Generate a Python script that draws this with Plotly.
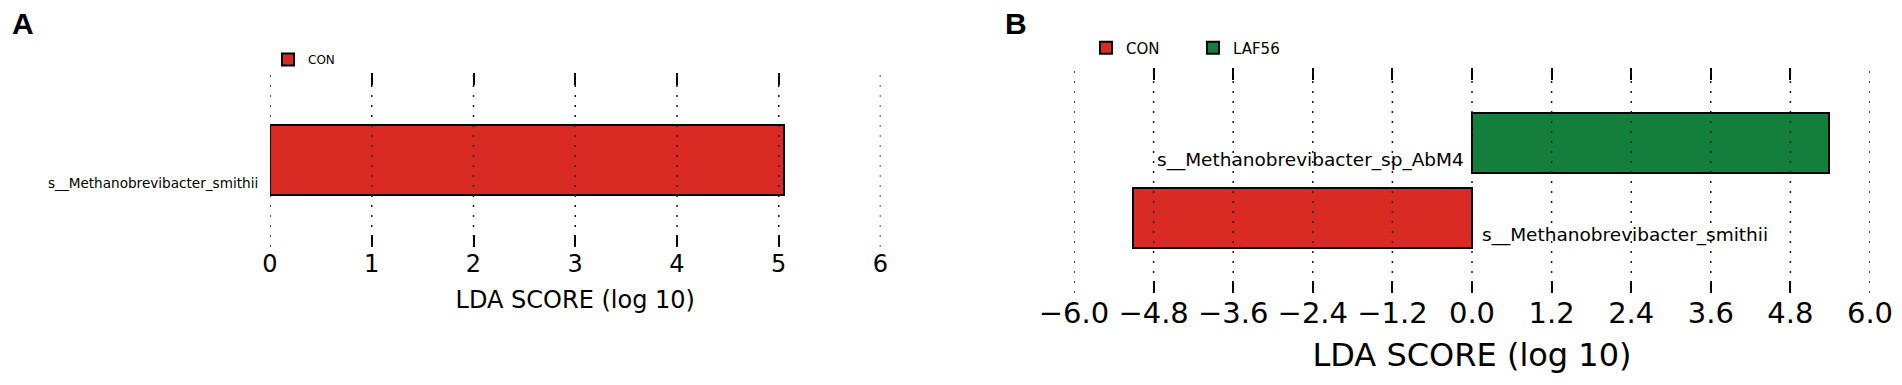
import plotly.graph_objects as go

# ---------------- data ----------------
a_species = ["s__Methanobrevibacter_smithii"]
a_lda = [5.05]
a_group = ["CON"]

b_species = ["s__Methanobrevibacter_smithii", "s__Methanobrevibacter_sp_AbM4"]
b_lda = [-5.11, 5.38]
b_group = ["CON", "LAF56"]

a_ticks = [0, 1, 2, 3, 4, 5, 6]
a_ticktext = ["0", "1", "2", "3", "4", "5", "6"]
b_ticks = [-6.0, -4.8, -3.6, -2.4, -1.2, 0.0, 1.2, 2.4, 3.6, 4.8, 6.0]
b_ticktext = ["\u22126.0", "\u22124.8", "\u22123.6", "\u22122.4", "\u22121.2", "0.0",
              "1.2", "2.4", "3.6", "4.8", "6.0"]

group_colors = {"CON": "#d92a23", "LAF56": "#147f3c"}
FONT = "DejaVu Sans"
W, H = 1902, 385

fig = go.Figure()

# Panel A bars
shown = set()
for i, (sp, v, g) in enumerate(zip(a_species, a_lda, a_group)):
    fig.add_trace(go.Bar(
        x=[v], y=[i], orientation="h", width=0.8, name=g,
        marker=dict(color=group_colors[g], line=dict(color="black", width=2)),
        xaxis="x", yaxis="y", legend="legend", showlegend=(g not in shown),
        hovertext=[sp], hoverinfo="text+x",
    ))
    shown.add(g)

# Panel B bars
shown = set()
for i, (sp, v, g) in enumerate(zip(b_species, b_lda, b_group)):
    fig.add_trace(go.Bar(
        x=[v], y=[i], orientation="h", width=0.8, name=g,
        marker=dict(color=group_colors[g], line=dict(color="black", width=2)),
        xaxis="x2", yaxis="y2", legend="legend2", showlegend=(g not in shown),
        hovertext=[sp], hoverinfo="text+x",
    ))
    shown.add(g)

# dotted grid lines drawn above the bars
shapes = []
for t in a_ticks:
    shapes.append(dict(type="line", xref="x", yref="y domain", x0=t, x1=t, y0=0, y1=1,
                       layer="above", line=dict(color="#1a1a1a", width=1.5, dash="2px,8px")))
for t in b_ticks:
    shapes.append(dict(type="line", xref="x2", yref="y2 domain", x0=t, x1=t, y0=0, y1=1,
                       layer="above", line=dict(color="#1a1a1a", width=1.5, dash="2px,8px")))

annotations = []
# species labels (placed on the zero line, shifted left/right of it)
for i, (sp, v) in enumerate(zip(a_species, a_lda)):
    annotations.append(dict(
        text=sp, x=0, y=i - 0.26, xref="x", yref="y",
        xanchor=("left" if v < 0 else "right"), xshift=(10 if v < 0 else -10),
        yanchor="middle", showarrow=False,
        font=dict(family=FONT, size=13.6, color="black")))
for i, (sp, v) in enumerate(zip(b_species, b_lda)):
    annotations.append(dict(
        text=sp, x=0, y=i - 0.23, xref="x2", yref="y2",
        xanchor=("left" if v < 0 else "right"), xshift=(8 if v < 0 else -6),
        yanchor="middle", showarrow=False,
        font=dict(family=FONT, size=18.5, color="black")))

# panel letters
annotations.append(dict(text="<b>A</b>", x=10 / W, y=1 - 23 / H, xref="paper", yref="paper",
                        xanchor="left", yanchor="middle", showarrow=False,
                        font=dict(family="Liberation Sans", size=30, color="black")))
annotations.append(dict(text="<b>B</b>", x=1003 / W, y=1 - 23 / H, xref="paper", yref="paper",
                        xanchor="left", yanchor="middle", showarrow=False,
                        font=dict(family="Liberation Sans", size=30, color="black")))

axis_common = dict(showline=False, zeroline=False, showgrid=False, automargin=False,
                   ticks="inside", mirror="ticks", ticklen=12, tickwidth=1.5,
                   tickcolor="black", fixedrange=True)
yaxis_common = dict(showticklabels=False, showgrid=False, zeroline=False, showline=False,
                    ticks="", fixedrange=True, automargin=False)

fig.update_layout(
    width=W, height=H,
    margin=dict(l=0, r=0, t=0, b=0, pad=0, autoexpand=False),
    paper_bgcolor="white", plot_bgcolor="white",
    barmode="overlay", bargap=0,
    font=dict(family=FONT, color="black"),
    xaxis=dict(domain=[270 / W, 880.5 / W], range=[0, 6], anchor="y",
               tickvals=a_ticks, ticktext=a_ticktext,
               tickfont=dict(family=FONT, size=24),
               title=dict(text="LDA SCORE (log 10)", font=dict(family=FONT, size=24), standoff=14),
               **axis_common),
    yaxis=dict(domain=[1 - 247 / H, 1 - 73 / H], range=[-1, 1], anchor="x", **yaxis_common),
    xaxis2=dict(domain=[1074 / W, 1870 / W], range=[-6, 6], anchor="y2",
                tickvals=b_ticks, ticktext=b_ticktext,
                tickfont=dict(family=FONT, size=29),
                title=dict(text="LDA SCORE (log 10)", font=dict(family=FONT, size=32), standoff=14),
                **axis_common),
    yaxis2=dict(domain=[1 - 293 / H, 1 - 68 / H], range=[-1, 2], anchor="x2", **yaxis_common),
    legend=dict(x=268 / W, y=1 - 59.5 / H, xanchor="left", yanchor="middle",
                orientation="v", font=dict(family=FONT, size=12),
                bgcolor="rgba(0,0,0,0)", borderwidth=0),
    legend2=dict(x=1086 / W, y=1 - 48 / H, xanchor="left", yanchor="middle",
                 orientation="h", font=dict(family=FONT, size=15),
                 entrywidth=62, entrywidthmode="pixels",
                 bgcolor="rgba(0,0,0,0)", borderwidth=0),
    shapes=shapes,
    annotations=annotations,
)

fig.write_html("out.html", config={"displayModeBar": False},
               post_script="document.body.style.margin='0px';document.body.style.padding='0px';")
